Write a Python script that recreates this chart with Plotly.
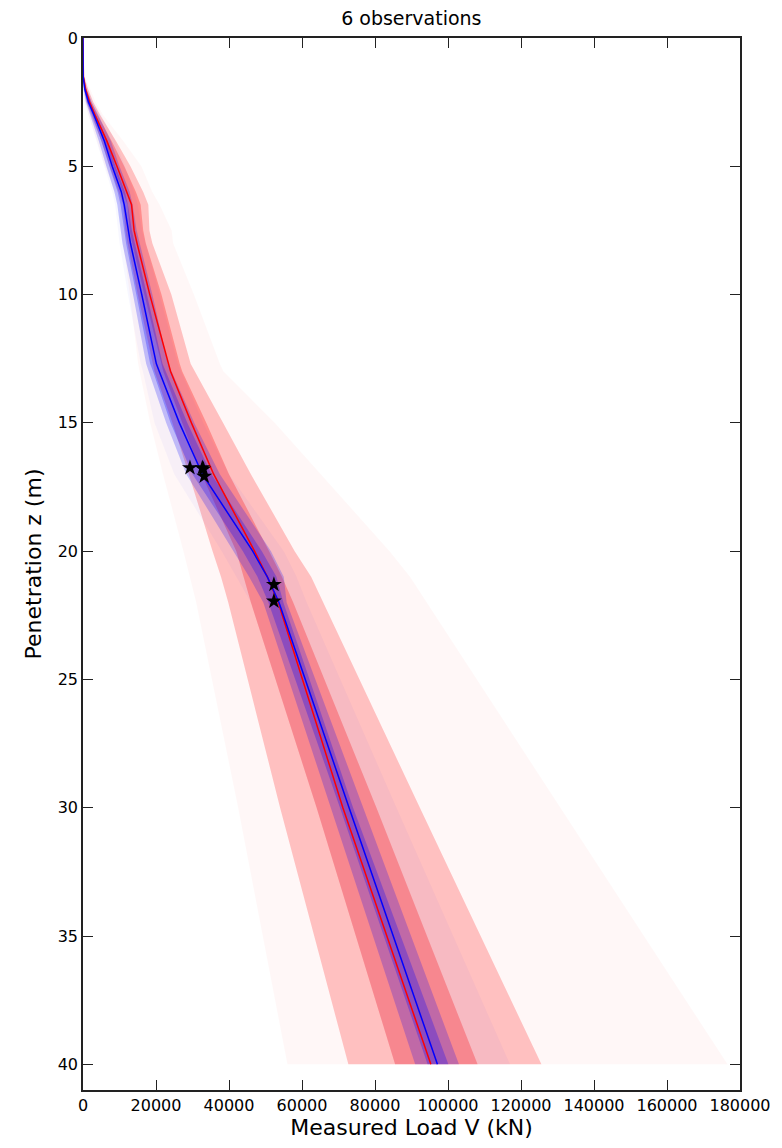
import plotly.graph_objects as go

# Depth grid (m)
Z = [0, 1.5, 2, 2.5, 3, 4, 5, 6, 6.5, 7.5, 8, 10, 12.7, 13, 15, 17, 20, 21, 22, 30, 40]

# Red (prior) median line and bands (kN)
red_line = [0, 100, 700, 1800, 3300, 6500, 9300, 12000, 13300, 14000, 14800, 18300, 23300, 24000, 29700, 35800, 47000, 50500, 53500, 71200, 95300]
red_in_lo = [0, 50, 500, 1400, 2800, 5800, 8300, 11000, 12200, 12800, 13500, 16800, 21300, 22000, 27200, 32500, 42000, 44000, 46000, 64000, 85500]
red_in_hi = [0, 200, 1000, 2300, 4000, 7800, 11300, 14500, 15800, 16500, 17200, 21500, 26500, 27200, 33800, 40000, 51000, 54500, 57600, 80400, 108100]
red_mid_lo = [0, 0, 300, 1000, 2200, 5000, 7300, 9800, 11000, 11600, 12200, 15000, 19000, 19600, 24500, 29000, 35500, 37800, 39800, 54000, 72700]
red_mid_hi = [0, 300, 1400, 2800, 4700, 9000, 13000, 16500, 17900, 18200, 19000, 24200, 29500, 30500, 38400, 46000, 58000, 62500, 66000, 92300, 125600]
red_out_lo = [0, 0, 100, 600, 1500, 3800, 6000, 8800, 10000, 10500, 11000, 12800, 15100, 15500, 18400, 21900, 27500, 29300, 31000, 42500, 56000]
red_out_hi = [0, 500, 2000, 3500, 5500, 11000, 16000, 19000, 21000, 24300, 24700, 30400, 37500, 38500, 52600, 65000, 84000, 89600, 94000, 130700, 176600]

# Blue (posterior) median line and bands (kN)
blue_line = [0, 50, 500, 1500, 3000, 5800, 8000, 10500, 11300, 12300, 13000, 16100, 20100, 20900, 26400, 32700, 46500, 50500, 53700, 72900, 97100]
blue_in_lo = [0, 0, 300, 1100, 2500, 5000, 7200, 9500, 10300, 11200, 11800, 14600, 18400, 19200, 24000, 30000, 43800, 47800, 50800, 70400, 94400]
blue_in_hi = [0, 100, 700, 1900, 3500, 6600, 8900, 11500, 12300, 13400, 14100, 17500, 21800, 22700, 28600, 35200, 49000, 53000, 54900, 74000, 100100]
blue_mid_lo = [0, 0, 150, 800, 2000, 4300, 6400, 8600, 9400, 10200, 10800, 13700, 17300, 18000, 22800, 28300, 41200, 45500, 49400, 67800, 91000]
blue_mid_hi = [0, 200, 1000, 2400, 4200, 7600, 10000, 12800, 13600, 14700, 15400, 19000, 23300, 24300, 30500, 37500, 51500, 55000, 55800, 76700, 103000]
blue_out_lo = [0, 0, 0, 400, 1500, 3500, 5900, 8000, 8800, 9500, 10000, 12300, 15800, 16400, 19600, 25000, 38000, 42000, 46000, 64000, 85500]
blue_out_hi = [0, 400, 1500, 3000, 5000, 8800, 11500, 14000, 15000, 16200, 17000, 21000, 26000, 27000, 33000, 40000, 55000, 58500, 61300, 85900, 117000]

# Observations
obs_load = [29300, 32700, 33000, 33200, 52300, 52300]
obs_z = [16.75, 16.75, 16.8, 17.08, 21.3, 21.95]

x_ticks = [0, 20000, 40000, 60000, 80000, 100000, 120000, 140000, 160000, 180000]
y_ticks = [0, 5, 10, 15, 20, 25, 30, 35, 40]

fig = go.Figure()


def band(lo, hi, color):
    fig.add_trace(go.Scatter(
        x=list(lo) + list(hi)[::-1],
        y=list(Z) + list(Z)[::-1],
        fill="toself", fillcolor=color, mode="lines",
        line=dict(width=0), hoverinfo="skip", showlegend=False))


band(red_out_lo, red_out_hi, "rgba(255,0,0,0.03)")
band(red_mid_lo, red_mid_hi, "rgba(255,0,0,0.22)")
band(red_in_lo, red_in_hi, "rgba(255,0,0,0.27)")
band(blue_out_lo, blue_out_hi, "rgba(0,0,255,0.03)")
band(blue_mid_lo, blue_mid_hi, "rgba(0,0,255,0.22)")
band(blue_in_lo, blue_in_hi, "rgba(0,0,255,0.27)")

fig.add_trace(go.Scatter(x=red_line, y=Z, mode="lines",
                         line=dict(color="red", width=1.5), showlegend=False))
fig.add_trace(go.Scatter(x=blue_line, y=Z, mode="lines",
                         line=dict(color="blue", width=1.5), showlegend=False))
fig.add_trace(go.Scatter(x=obs_load, y=obs_z, mode="markers",
                         marker=dict(symbol="star", size=12, color="black"),
                         showlegend=False))

axis_common = dict(
    showline=True, linecolor="#222", linewidth=1.5, mirror="allticks",
    ticks="inside", ticklen=10, tickwidth=1, tickcolor="#222",
    showgrid=False, zeroline=False,
    tickfont=dict(family="DejaVu Sans", size=16, color="black"),
)

W, H = 782, 1148
fig.update_layout(
    width=W, height=H,
    margin=dict(l=83, r=42, t=38, b=58),
    paper_bgcolor="white", plot_bgcolor="white",
    font=dict(family="DejaVu Sans", color="black"),
    title=dict(text="6 observations", x=0.526, xanchor="center",
               y=1 - 18 / H, yanchor="middle", yref="container",
               font=dict(family="DejaVu Sans", size=19, color="black")),
    xaxis=dict(range=[0, 180000], tickvals=x_ticks,
               ticktext=[str(v) for v in x_ticks],
               title=dict(text="Measured Load V (kN)",
                          font=dict(family="DejaVu Sans", size=22), standoff=4),
               **axis_common),
    yaxis=dict(range=[41, 0], tickvals=y_ticks,
               ticktext=[str(v) for v in y_ticks],
               title=dict(text="Penetration z (m)",
                          font=dict(family="DejaVu Sans", size=22), standoff=10),
               **axis_common),
)

fig.write_html(
    "out.html",
    config={"displayModeBar": False},
    post_script="document.body.style.margin='0';"
                "document.documentElement.style.overflow='hidden';",
)
